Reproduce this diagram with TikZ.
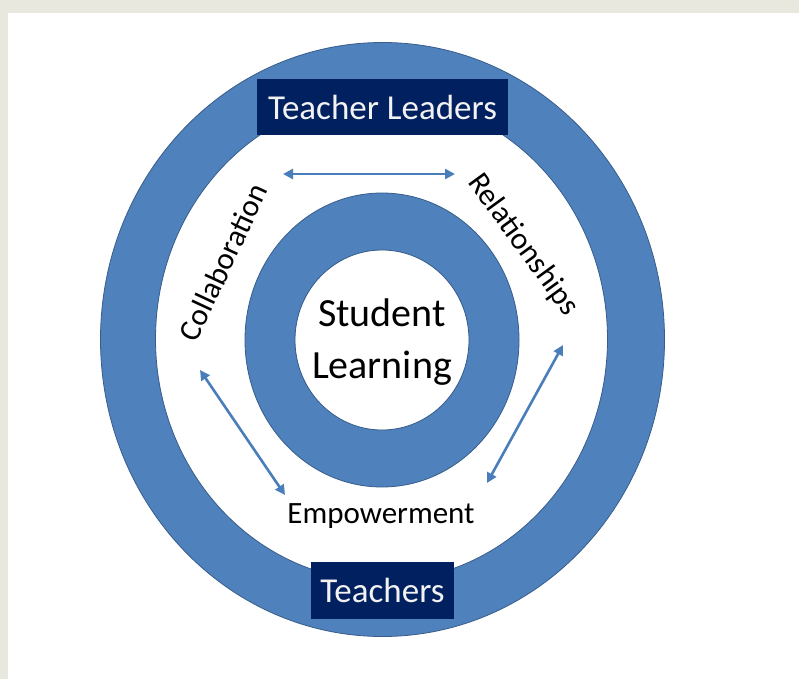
\documentclass[tikz,border=0pt]{standalone}
\usepackage{fontspec}
\setmainfont{Carlito}
\usetikzlibrary{arrows.meta}
\definecolor{RingBlue}{RGB}{79,129,189}
\definecolor{RingEdge}{RGB}{56,93,138}
\definecolor{LinkBlue}{RGB}{74,126,187}
\definecolor{BoxNavy}{RGB}{0,32,96}
\definecolor{PageGrey}{RGB}{232,232,222}

\begin{document}
\begin{tikzpicture}[x=1pt,y=-1pt,ring/.style={fill=RingBlue,draw=RingEdge,line width=0.8pt,even odd rule},box/.style={fill=BoxNavy,text=white!95!black,minimum width=#1,minimum height=56pt,inner sep=0pt,font=\fontsize{35}{40}\selectfont},lbl/.style={inner sep=0pt,font=\fontsize{31}{36}\selectfont},link/.style={draw=LinkBlue,line width=2.6pt,arrows={Triangle[length=10pt,width=10pt]-Triangle[length=10pt,width=10pt]}}]
\fill[PageGrey] (0,0) rectangle (799,679);
\fill[white] (8,13) rectangle (799,679);
\useasboundingbox (0,0) rectangle (799,679);
\path[ring] (382.5,339.5) ellipse [x radius=282,y radius=297]
   (381.5,339) ellipse [x radius=226,y radius=242];
\path[ring] (382,340) ellipse [x radius=137,y radius=147]
   (382,340) ellipse [x radius=87,y radius=90];
\node[box=251pt] (leaders) at (382.5,107.5) {Teacher Leaders};
\node[box=143pt,minimum height=57pt] (teachers) at (382.5,590.5) {Teachers};
\node[lbl,font=\fontsize{40}{52}\selectfont,align=center] (student) at (382,342) {Student\\Learning};
\node[lbl,rotate=65] (collab) at (223,262) {Collaboration};
\node[lbl,rotate=-54] (relations) at (523,245) {Relationships};
\node[lbl] (empower) at (381,516) {Empowerment};
\coordinate (top-l) at (283,174);
\coordinate (top-r) at (455,174);
\coordinate (left-t) at (200,370);
\coordinate (left-b) at (285,495);
\coordinate (right-t) at (563,345);
\coordinate (right-b) at (487,483);
\draw[link] (top-l) -- (top-r);
\draw[link] (left-t) -- (left-b);
\draw[link] (right-t) -- (right-b);
\end{tikzpicture}
\end{document}
